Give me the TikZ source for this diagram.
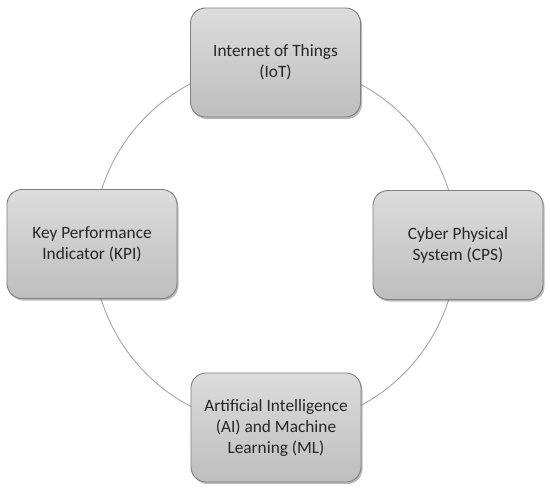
\documentclass[tikz,border=0pt]{standalone}
\usepackage{fontspec}
\setmainfont{Carlito}
\usetikzlibrary{shadows}
\definecolor{boxtop}{HTML}{DCDCDC}
\definecolor{boxbot}{HTML}{BEBEBE}
\definecolor{boxline}{HTML}{7F7F7F}
\definecolor{ringcol}{HTML}{A6A6A6}
\begin{document}
\begin{tikzpicture}[x=1pt,y=-1pt,
  topic/.style={draw=boxline, line width=0.9pt, rounded corners=15pt,
    top color=boxtop, bottom color=boxbot,
    minimum width=170pt, minimum height=109pt, inner sep=2pt,
    align=center, text=black!85,
    font=\fontsize{17.3}{21}\selectfont,
    drop shadow={shadow xshift=1.5pt, shadow yshift=-2pt, opacity=0.45, fill=black!60}},
  ring/.style={draw=ringcol, line width=0.9pt}]
\useasboundingbox (0,0) rectangle (550,496);
\coordinate (c) at (275,245);
\draw[ring] (c) circle[radius=182pt];
\node[topic] (iot) at (275.5,62.5) {Internet of Things\\(IoT)};
\node[topic] (kpi) at (92,244) {Key Performance\\Indicator (KPI)};
\node[topic] (cps) at (458,245) {Cyber Physical\\System (CPS)};
\node[topic] (aiml) at (276,427.5) {Artificial Intelligence\\(AI) and Machine\\Learning (ML)};
\end{tikzpicture}
\end{document}
